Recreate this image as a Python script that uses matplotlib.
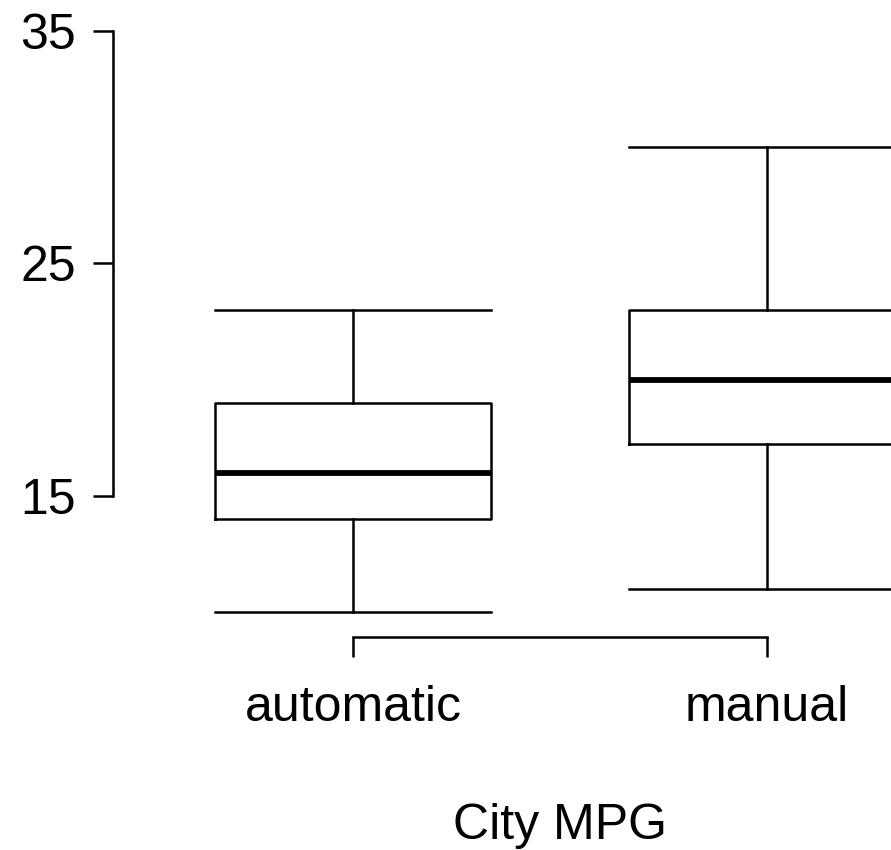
import matplotlib
matplotlib.use("Agg")
import matplotlib.pyplot as plt

plt.rcParams['font.family'] = ['Liberation Sans', 'DejaVu Sans']

# box statistics (City MPG)
groups = ["automatic", "manual"]
lower_whisker = [10, 11]
q1 = [14, 17.25]
median = [16, 20]
q3 = [19, 23]
upper_whisker = [23, 30]
yticks = [15, 25, 35]

W, H = 891, 850
fig = plt.figure(figsize=(W / 100, H / 100), dpi=100)

# axes placed in pixel terms, R-style plot region (right side runs off the figure)
left_px, right_px, top_px, bottom_px = 113, 1007, 7.75, 637
ax = fig.add_axes([left_px / W, 1 - bottom_px / H,
                   (right_px - left_px) / W, (bottom_px - top_px) / H])

stats = []
for i, g in enumerate(groups):
    stats.append(dict(label=g, whislo=lower_whisker[i], q1=q1[i], med=median[i],
                      q3=q3[i], whishi=upper_whisker[i], fliers=[]))

lw = 1.8
bw = 0.667
ax.bxp(stats, positions=[1, 2], widths=bw, capwidths=bw, showfliers=False,
       boxprops=dict(color='black', linewidth=lw),
       whiskerprops=dict(color='black', linewidth=lw, linestyle='-'),
       capprops=dict(color='black', linewidth=lw),
       medianprops=dict(color='black', linewidth=4.2, solid_capstyle='butt'))

ax.set_xlim(0.42, 2.58)
ax.set_ylim(8.935, 36)

for s in ['top', 'right']:
    ax.spines[s].set_visible(False)
ax.spines['left'].set_bounds(15, 35)
ax.spines['bottom'].set_bounds(1, 2)
for s in ['left', 'bottom']:
    ax.spines[s].set_linewidth(lw)

ax.set_yticks(yticks)
ax.set_yticklabels([str(t) for t in yticks])
ax.set_xticks([1, 2])
ax.set_xticklabels(groups)
ax.tick_params(axis='both', direction='out', length=14.4, width=lw, labelsize=36)
ax.tick_params(axis='y', pad=12)
ax.tick_params(axis='x', pad=20)

ax.set_xlabel("City MPG", fontsize=36, labelpad=52)

fig.savefig("out.png", dpi=100)
